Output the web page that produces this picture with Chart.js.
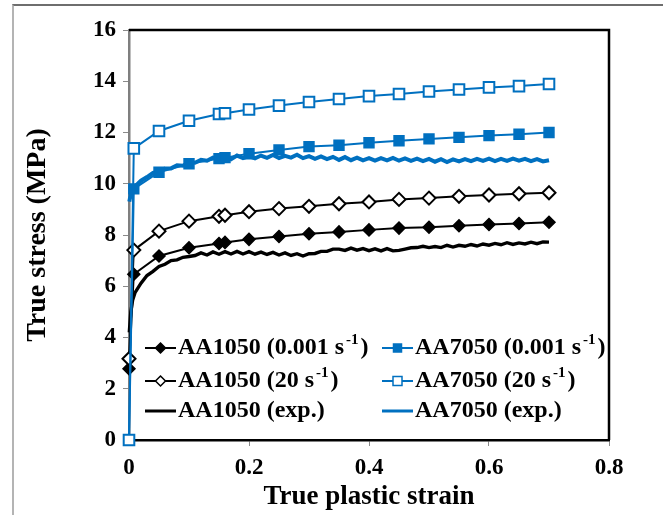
<!DOCTYPE html>
<html><head><meta charset="utf-8">
<script src="https://cdn.jsdelivr.net/npm/chart.js@4.4.1/dist/chart.umd.min.js"></script>
<style>
html,body{margin:0;padding:0;background:#fff;overflow:hidden}
#wrap{position:relative;width:663px;height:515px;overflow:hidden}
#frame{position:absolute;left:12px;top:4px;width:660px;height:600px;border-left:2px solid #b4b4b4;border-top:2px solid #6e6e6e}
canvas{position:absolute;left:0;top:0}
</style></head><body>
<div id="wrap"><div id="frame"></div><canvas id="c" width="663" height="515"></canvas></div>
<script>
// ---- data ----
const xTickLabels = ['0', '0.2', '0.4', '0.6', '0.8'];
const yTickLabels = ['0', '2', '4', '6', '8', '10', '12', '14', '16'];
const seriesNames = ['AA1050 (0.001 s⁻¹)', 'AA1050 (20 s⁻¹)', 'AA1050 (exp.)',
                     'AA7050 (0.001 s⁻¹)', 'AA7050 (20 s⁻¹)', 'AA7050 (exp.)'];
const modelStrain = [0, 0.008, 0.05, 0.1, 0.15, 0.16, 0.2, 0.25, 0.3, 0.35, 0.4, 0.45, 0.5, 0.55, 0.6, 0.65, 0.7];
const aa1050Slow = [2.78, 6.47, 7.18, 7.5, 7.67, 7.71, 7.83, 7.94, 8.05, 8.12, 8.2, 8.27, 8.3, 8.36, 8.41, 8.45, 8.5];
const aa1050Fast = [3.17, 7.41, 8.15, 8.54, 8.73, 8.77, 8.91, 9.03, 9.12, 9.22, 9.29, 9.39, 9.44, 9.51, 9.56, 9.61, 9.65];
const aa7050Slow = [0, 9.8, 10.45, 10.78, 10.98, 11.02, 11.17, 11.32, 11.45, 11.5, 11.6, 11.68, 11.75, 11.81, 11.88, 11.93, 12.0];
const aa7050Fast = [0, 11.38, 12.06, 12.46, 12.72, 12.75, 12.9, 13.05, 13.19, 13.31, 13.42, 13.5, 13.6, 13.68, 13.76, 13.81, 13.89];
const expStrain = [0.0005, 0.003, 0.006,
  0.01, 0.02, 0.03, 0.04, 0.05, 0.06, 0.07, 0.08, 0.09, 0.10,
  0.11, 0.12, 0.13, 0.14, 0.15, 0.16, 0.17, 0.18, 0.19, 0.20,
  0.21, 0.22, 0.23, 0.24, 0.25, 0.26, 0.27, 0.28, 0.29, 0.30,
  0.31, 0.32, 0.33, 0.34, 0.35, 0.36, 0.37, 0.38, 0.39, 0.40,
  0.41, 0.42, 0.43, 0.44, 0.45, 0.46, 0.47, 0.48, 0.49, 0.50,
  0.51, 0.52, 0.53, 0.54, 0.55, 0.56, 0.57, 0.58, 0.59, 0.60,
  0.61, 0.62, 0.63, 0.64, 0.65, 0.66, 0.67, 0.68, 0.69, 0.70];
const aa1050Exp = [4.2, 5.0, 5.45,
  5.75, 6.12, 6.42, 6.58, 6.77, 6.86, 7.0, 7.03, 7.13, 7.16,
  7.2, 7.3, 7.22, 7.34, 7.25, 7.35, 7.26, 7.36, 7.26, 7.35,
  7.25, 7.33, 7.24, 7.32, 7.22, 7.3, 7.2, 7.27, 7.18, 7.27,
  7.28, 7.36, 7.36, 7.45, 7.45, 7.4, 7.49, 7.41, 7.47, 7.39,
  7.46, 7.38, 7.47, 7.38, 7.4, 7.45, 7.5, 7.51, 7.56, 7.51,
  7.55, 7.51, 7.6, 7.53, 7.6, 7.56, 7.63, 7.57, 7.65, 7.6,
  7.67, 7.62, 7.7, 7.63, 7.69, 7.65, 7.72, 7.66, 7.73, 7.72];
const aa7050Exp = [9.3, 9.6, 9.8,
  9.9, 10.12, 10.26, 10.42, 10.47, 10.6, 10.6, 10.72, 10.7, 10.84,
  10.82, 10.93, 10.9, 11.02, 10.97, 11.06, 10.96, 11.1, 11.0, 11.08,
  10.99, 11.1, 11.01, 11.12, 11.0, 11.09, 11.02, 11.13, 11.0, 11.08,
  10.97, 11.07, 10.96, 11.05, 10.93, 11.04, 10.92, 11.02, 10.91, 11.0,
  10.9, 11.0, 10.91, 11.01, 10.9, 10.99, 10.89, 10.98, 10.88, 10.97,
  10.86, 10.96, 10.85, 10.95, 10.87, 10.96, 10.88, 10.97, 10.89, 10.98,
  10.88, 10.97, 10.89, 10.98, 10.9, 10.97, 10.88, 10.96, 10.87, 10.92];

const BLUE = '#0070C0';
const BLACK = '#000000';
const SERIF = '"Liberation Serif", "Times New Roman", serif';

const pts = (xs, ys) => xs.map((x, i) => ({x: x, y: ys[i]}));

const datasets = [
  {label: seriesNames[0], data: pts(modelStrain, aa1050Slow), borderColor: BLACK, backgroundColor: BLACK,
   pointStyle: 'rectRot', pointRadius: 6, pointBorderWidth: 1.5, borderWidth: 2, order: 5, legendR: 5},
  {label: seriesNames[1], data: pts(modelStrain, aa1050Fast), borderColor: BLACK, backgroundColor: '#fff',
   pointStyle: 'rectRot', pointRadius: 6.5, pointBorderWidth: 2, borderWidth: 2, order: 4, legendR: 5},
  {label: seriesNames[2], data: pts(expStrain, aa1050Exp), borderColor: BLACK, backgroundColor: BLACK,
   pointRadius: 0, borderWidth: 3.4, order: 6},
  {label: seriesNames[3], data: pts(modelStrain, aa7050Slow), borderColor: BLUE, backgroundColor: BLUE,
   pointStyle: 'rect', pointRadius: 7, pointBorderWidth: 1.5, borderWidth: 2, order: 2, legendR: 4},
  {label: seriesNames[4], data: pts(modelStrain, aa7050Fast), borderColor: BLUE, backgroundColor: '#fff',
   pointStyle: 'rect', pointRadius: 7.5, pointBorderWidth: 2, borderWidth: 2, order: 1, legendR: 4.5},
  {label: seriesNames[5], data: pts(expStrain, aa7050Exp), borderColor: BLUE, backgroundColor: BLUE,
   pointRadius: 0, borderWidth: 4, order: 3}
];
datasets.forEach(d => { d.clip = false; d.tension = 0; d.fill = false; });

// ---- plugins ----
const frameBorder = {
  id: 'frameBorder',
  afterDraw(chart) {
    const {ctx, chartArea: a} = chart;
    ctx.save();
    ctx.strokeStyle = '#000';
    ctx.lineWidth = 2.5;
    ctx.beginPath();
    ctx.moveTo(a.left, a.top);
    ctx.lineTo(a.right, a.top);
    ctx.lineTo(a.right, a.bottom);
    ctx.stroke();
    ctx.restore();
  }
};

function drawMarker(ctx, style, x, y, r, fill, stroke, bw) {
  ctx.beginPath();
  if (style === 'rectRot') {
    ctx.moveTo(x, y - r); ctx.lineTo(x + r, y); ctx.lineTo(x, y + r); ctx.lineTo(x - r, y); ctx.closePath();
  } else {
    ctx.rect(x - r, y - r, 2 * r, 2 * r);
  }
  ctx.fillStyle = fill; ctx.fill();
  ctx.lineWidth = bw; ctx.strokeStyle = stroke; ctx.stroke();
}

function drawLabel(ctx, text, x, y) {
  const parts = text.split('⁻¹');
  const main = 'bold 24px ' + SERIF;
  const sup = 'bold 15px ' + SERIF;
  ctx.textBaseline = 'middle';
  ctx.textAlign = 'left';
  ctx.fillStyle = '#000';
  let cx = x;
  for (let i = 0; i < parts.length; i++) {
    ctx.font = main;
    ctx.fillText(parts[i], cx, y);
    cx += ctx.measureText(parts[i]).width;
    if (i < parts.length - 1) {
      cx += 2;
      ctx.font = sup;
      ctx.fillText('-1', cx, y - 8);
      cx += ctx.measureText('-1').width + 2;
    }
  }
}

const customLegend = {
  id: 'customLegend',
  afterDraw(chart) {
    const ctx = chart.ctx;
    const colX = [145, 382];
    const rowY = [348, 381, 411];
    const sampleLen = 31;
    ctx.save();
    chart.data.datasets.forEach((d, i) => {
      const col = i < 3 ? 0 : 1;
      const row = i % 3;
      const x0 = colX[col], y = rowY[row];
      ctx.strokeStyle = d.borderColor;
      ctx.lineWidth = d.pointRadius ? 2 : 3;
      ctx.beginPath(); ctx.moveTo(x0, y); ctx.lineTo(x0 + sampleLen, y); ctx.stroke();
      if (d.pointRadius) {
        drawMarker(ctx, d.pointStyle, x0 + sampleLen / 2, y, d.legendR, d.backgroundColor, d.borderColor, 1.5);
      }
      drawLabel(ctx, d.label, x0 + sampleLen + 2, y);
    });
    ctx.restore();
  }
};

// ---- chart ----
new Chart(document.getElementById('c'), {
  type: 'line',
  data: {datasets: datasets},
  options: {
    responsive: false,
    animation: false,
    events: [],
    layout: {padding: {left: 0, top: 30, right: 54, bottom: 0}},
    plugins: {legend: {display: false}, tooltip: {enabled: false}},
    elements: {line: {borderJoinStyle: 'miter'}},
    scales: {
      x: {
        type: 'linear', min: 0, max: 0.8,
        afterFit: s => { s.height = 75; },
        ticks: {stepSize: 0.2, color: '#000', padding: 8,
          font: {family: SERIF, size: 23, weight: 'bold'},
          callback: (v, i) => xTickLabels[i]},
        grid: {display: true, drawOnChartArea: false, drawTicks: true, tickLength: 6, tickColor: '#8a8a8a', tickWidth: 1},
        border: {display: true, color: '#000', width: 2.5},
        title: {display: true, text: 'True plastic strain', color: '#000',
          font: {family: SERIF, size: 27, weight: 'bold', lineHeight: 1}, padding: {top: 0, bottom: 4}}
      },
      y: {
        type: 'linear', min: 0, max: 16,
        afterFit: s => { s.width = 129; },
        ticks: {stepSize: 2, color: '#000', padding: 7,
          font: {family: SERIF, size: 23, weight: 'bold'},
          callback: (v, i) => yTickLabels[i]},
        grid: {display: true, drawOnChartArea: false, drawTicks: true, tickLength: 6, tickColor: '#8a8a8a', tickWidth: 1},
        border: {display: true, color: '#7f7f7f', width: 2.5},
        title: {display: true, text: 'True stress (MPa)', color: '#000',
          font: {family: SERIF, size: 28, weight: 'bold', lineHeight: 1}, padding: {top: 24, bottom: 0}}
      }
    }
  },
  plugins: [frameBorder, customLegend]
});
</script>
</body></html>
